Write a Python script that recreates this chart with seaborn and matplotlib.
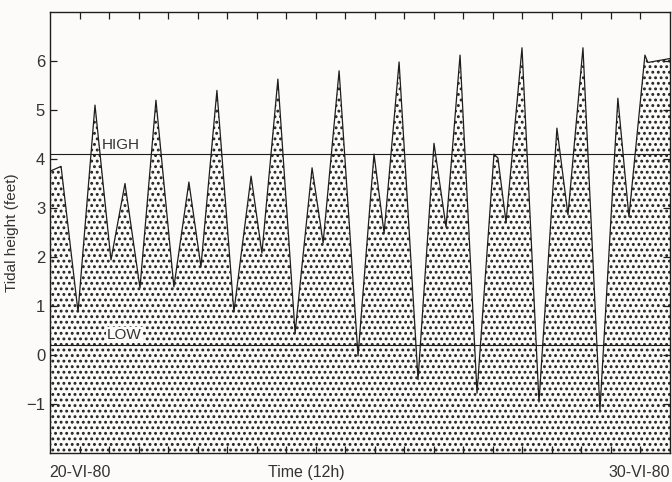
import matplotlib
matplotlib.use('Agg')
import matplotlib.pyplot as plt
import seaborn as sns
import pandas as pd

# Tide record, hours after 00h on 20-VI-80
hours = [-12.2, -7.7, -0.8, 6.1, 12.6, 18.3, 24.4, 30.9, 38.2, 44.3,
         49.2, 55.7, 62.6, 69.6, 74.0, 80.5, 87.5, 94.4, 98.9, 105.4,
         113.1, 119.6, 123.7, 129.8, 137.5, 144.0, 148.9, 154.6, 161.5, 168.4,
         170.0, 173.3, 179.8, 186.7, 194.0, 198.5, 204.6, 211.5, 218.8, 223.3,
         229.8, 231.0, 240.0]
height_ft = [3.75, 3.85, 0.88, 5.1, 1.94, 3.5, 1.37, 5.2, 1.39, 3.53,
             1.8, 5.4, 0.88, 3.65, 2.08, 5.63, 0.45, 3.82, 2.29, 5.8,
             -0.02, 4.1, 2.49, 5.98, -0.5, 4.32, 2.61, 6.12, -0.78, 4.1,
             4.02, 2.71, 6.27, -0.96, 4.63, 2.86, 6.27, -1.12, 5.24, 2.82,
             6.12, 5.97, 6.05]

high_level = 4.1
low_level = 0.2
ytick_vals = [-1, 0, 1, 2, 3, 4, 5, 6]
xtick_hours = list(range(0, 240, 12))
start_label = '20-VI-80'
end_label = '30-VI-80'
time_label = 'Time (12h)'

df = pd.DataFrame({'hours': hours, 'height': height_ft})

sns.set_theme(style='ticks')
plt.rcParams['font.family'] = ['Liberation Sans', 'DejaVu Sans']
plt.rcParams['hatch.linewidth'] = 1.3

ink = '#1e1e1e'
fig = plt.figure(figsize=(6.72, 4.82), dpi=100, facecolor='#fcfbf9')
ax = fig.add_axes([50 / 672, 29 / 482, 620 / 672, 441 / 482])
ax.set_facecolor('#fcfbf9')

# stippled area under the curve
ax.fill_between(df['hours'], df['height'], -2, facecolor='none',
                edgecolor='#222222', linewidth=0, hatch='...')
sns.lineplot(data=df, x='hours', y='height', color=ink, linewidth=0.9, ax=ax)

ax.axhline(high_level, color=ink, linewidth=0.8)
ax.axhline(low_level, color=ink, linewidth=0.8)
ax.text(8.9, high_level + 0.04, 'HIGH', fontsize=11, color='#333', va='bottom')
ax.text(11.0, low_level + 0.06, 'LOW', fontsize=11, color='#333', va='bottom',
        bbox=dict(facecolor='#fcfbf9', edgecolor='none', pad=0.5))

ax.set_xlim(-12.2, 240)
ax.set_ylim(-2, 7)
ax.set_yticks(ytick_vals)
ax.set_xticks(xtick_hours)
ax.set_xticklabels([])
ax.tick_params(direction='in', length=5, width=0.9, color=ink,
               top=True, right=True, labelsize=12, labelcolor='#333')
for s in ax.spines.values():
    s.set_visible(True)
    s.set_color(ink)
    s.set_linewidth(1.0)

ax.set_xlabel('')
ax.set_ylabel('Tidal height (feet)', fontsize=11, color='#333', labelpad=5)

tr = ax.get_xaxis_transform()
ax.text(0, -0.045, start_label, transform=tr, ha='center', va='center',
        fontsize=11.5, color='#333')
ax.text(92, -0.045, time_label, transform=tr, ha='center', va='center',
        fontsize=11.5, color='#333')
ax.text(240, -0.045, end_label, transform=tr, ha='right', va='center',
        fontsize=11.5, color='#333')

plt.savefig('out.png', dpi=100, facecolor=fig.get_facecolor())
